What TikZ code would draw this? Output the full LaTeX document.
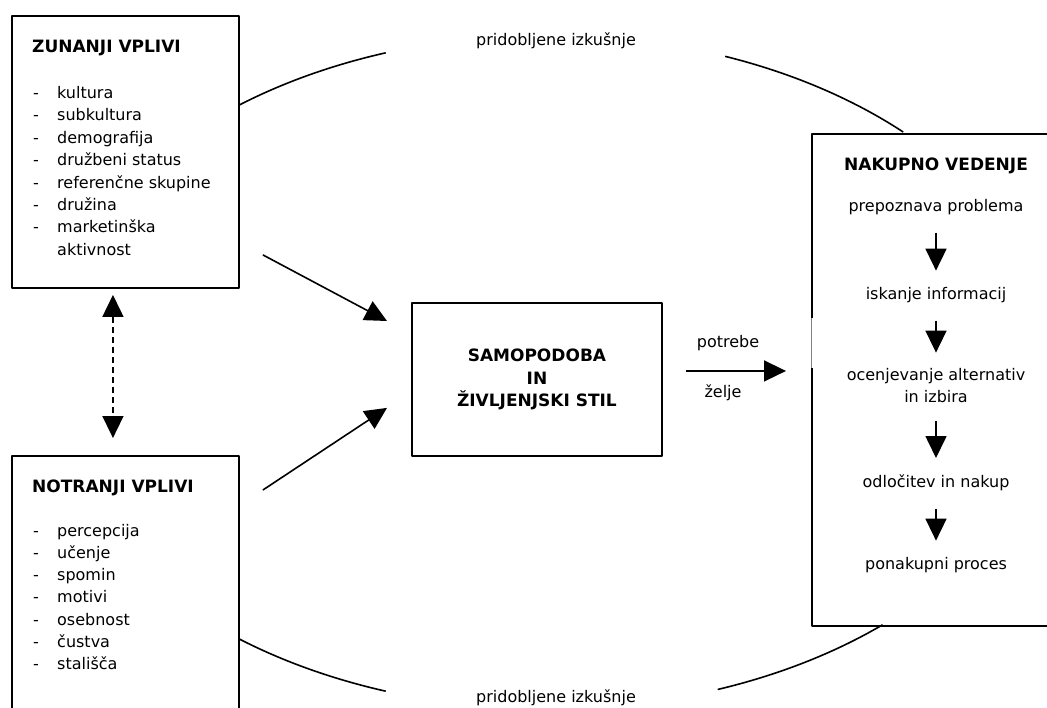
\documentclass[tikz,border=0pt]{standalone}
\usepackage{fontspec}
\setmainfont{DejaVu Sans}
\usetikzlibrary{arrows.meta,calc}
\begin{document}
\begin{tikzpicture}[x=1pt, y=-1pt, line join=round, >={Triangle[width=21pt,length=22pt]},
	font=\fontsize{16}{22}\selectfont,
	box/.style={draw, line width=1.9pt, inner sep=0pt, anchor=north west},
	head/.style={font=\bfseries\fontsize{17}{22.5}\selectfont},
	txt/.style={inner sep=0pt},
	conn/.style={->, line width=1.6pt},
	flow/.style={conn, shorten <=18pt, shorten >=16pt},
	arcline/.style={line width=1.6pt}]
	\def\ea{506} \def\eb{337}
	\useasboundingbox (0,0) rectangle (1047,707);
	\clip (0,0) rectangle (1047,707);
	% okvirji
	\node[box, minimum width=227pt, minimum height=272pt] (zun) at (11,15) {};
	\node[box, minimum width=227pt, minimum height=272pt] (notr) at (11,455) {};
	\node[box, head, align=center, minimum width=250pt, minimum height=153pt] (samo) at (411,302) {SAMOPODOBA\\IN\\ŽIVLJENJSKI STIL};
	\node[box, minimum width=251pt, minimum height=492pt] (nak) at (811,133) {};
	\draw[white, line width=3pt] ($(nak.north west)+(0,185)$) -- ($(nak.north west)+(0,235)$);
	\draw[gray, line width=0.7pt] ($(nak.north west)+(0,185)$) -- ($(nak.north west)+(0,235)$);
	% zunanji vplivi
	\node[txt, head, anchor=base west] (zunhead) at (32,52) {ZUNANJI VPLIVI};
	\foreach \t [count=\i] in {kultura,subkultura,demografija,družbeni status,referenčne skupine,družina,marketinška}{
		\node[txt, anchor=base west] (zd\i) at (33,76.1+22.4*\i) {-};
		\node[txt, anchor=base west] (zl\i) at (57,76.1+22.4*\i) {\t};
	}
	\node[txt, anchor=base west] (zl8) at (57,255) {aktivnost};
	% notranji vplivi
	\node[txt, head, anchor=base west] (notrhead) at (32,492.5) {NOTRANJI VPLIVI};
	\foreach \t [count=\i] in {percepcija,učenje,spomin,motivi,osebnost,čustva,stališča}{
		\node[txt, anchor=base west] (nd\i) at (33,513.7+22.3*\i) {-};
		\node[txt, anchor=base west] (nl\i) at (57,513.7+22.3*\i) {\t};
	}
	% nakupno vedenje
	\node[txt, head, anchor=base] (nakhead) at (936,170.5) {NAKUPNO VEDENJE};
	\node[txt, anchor=base] (p1) at (936,211) {prepoznava problema};
	\node[txt, anchor=base] (p2) at (936,299) {iskanje informacij};
	\node[txt, align=center] (p3) at (936,386) {ocenjevanje alternativ\\in izbira};
	\node[txt, anchor=base] (p4) at (936,487) {odločitev in nakup};
	\node[txt, anchor=base] (p5) at (936,569) {ponakupni proces};
	\draw[flow] (p1) -- (p2);
	\draw[flow] (p2) -- (p3);
	\draw[flow] (p3) -- (p4);
	\draw[flow] (p4) -- (p5);
	% puscice
	\draw[conn] ([xshift=23pt,yshift=34pt]zun.south east) -- ([xshift=-24pt,yshift=-19pt]samo.north west);
	\draw[conn] ([xshift=23pt,yshift=-35pt]notr.north east) -- ([xshift=-24pt,yshift=49pt]samo.south west);
	\draw[conn, <->, dash pattern=on 6pt off 4pt, shorten <=6pt, shorten >=17pt] ([xshift=-12.5pt]zun.south) -- ([xshift=-12.5pt]notr.north);
	\coordinate (potr) at ([yshift=8.5pt]samo.east);
	\draw[conn, shorten <=23pt, shorten >=25pt] (potr) -- (potr -| nak.west);
	\node[txt, anchor=base] (lpotr) at (728,347) {potrebe};
	\node[txt, anchor=base] (lzel) at (723,397) {želje};
	% pridobljene izkusnje
	\coordinate (ectr) at (548,372);
	\node[txt, anchor=base] (exptop) at (556,45) {pridobljene izkušnje};
	\node[txt, anchor=base] (expbot) at (556,702) {pridobljene izkušnje};
	\draw[arcline] ($(ectr)+(232.3:{\ea} and {\eb})$) arc[start angle=232.3, end angle=251.3, x radius=\ea, y radius=\eb];
	\draw[arcline] ($(ectr)+(290.5:{\ea} and {\eb})$) arc[start angle=290.5, end angle=314.6, x radius=\ea, y radius=\eb];
	\draw[arcline] ($(ectr)+(127.7:{\ea} and {\eb})$) arc[start angle=127.7, end angle=108.7, x radius=\ea, y radius=\eb];
	\draw[arcline] ($(ectr)+(70.4:{\ea} and {\eb})$) arc[start angle=70.4, end angle=48.6, x radius=\ea, y radius=\eb];
\end{tikzpicture}
\end{document}
